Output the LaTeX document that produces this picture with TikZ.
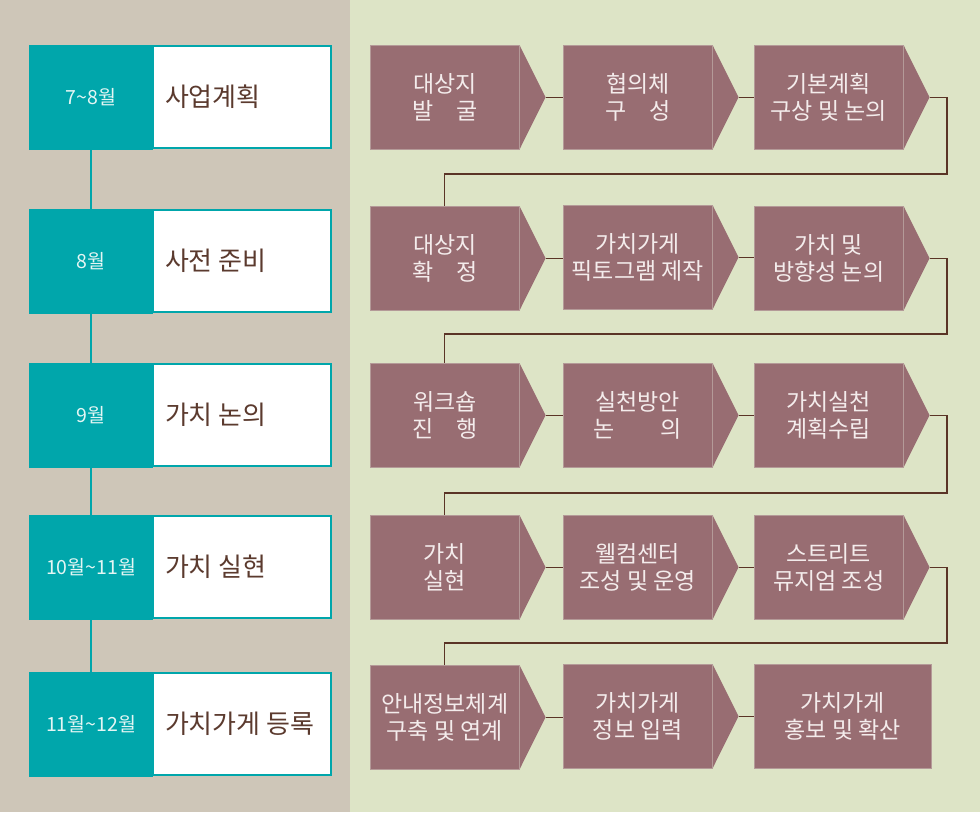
\documentclass[tikz,border=0pt]{standalone}
\usepackage{fontspec}
\newfontfamily\kr{Noto Sans CJK KR}
\usetikzlibrary{calc}
\definecolor{bgleft}{HTML}{CEC6B8}
\definecolor{bgright}{HTML}{DDE4C6}
\definecolor{teal}{HTML}{00A6AB}
\definecolor{mauve}{HTML}{986D72}
\definecolor{mauveedge}{HTML}{B49A98}
\definecolor{proctext}{HTML}{F4ECEC}
\definecolor{monthtext}{HTML}{E4F6F4}
\definecolor{titletext}{HTML}{5B3A2E}
\definecolor{conncol}{HTML}{5A3426}
\tikzset{
  monthbox/.style={fill=teal, draw=teal, line width=1pt, minimum width=123pt, minimum height=104pt, inner sep=0pt,
    anchor=north west, text=monthtext, font=\kr\fontsize{19.5}{22}\selectfont},
  titlebox/.style={fill=white, draw=teal, line width=2pt, minimum width=178pt, minimum height=102pt, inner sep=0pt,
    anchor=west, text=titletext, font=\kr\fontsize{26}{30}\selectfont},
  proc/.style={fill=mauve, draw=mauveedge, line width=0.5pt, minimum width=149pt, minimum height=104pt, inner sep=0pt,
    anchor=north west, text=proctext, align=center, font=\kr\fontsize{23}{26.5}\selectfont},
  tri/.style={fill=mauve},
  seam/.style={draw=mauveedge, line width=0.6pt},
  conn/.style={draw=conncol, line width=1.1pt},
  tline/.style={draw=teal, line width=1.2pt}
}
\newcommand{\titletext}[1]{\makebox[178pt][l]{\hspace{12pt}#1}}
\begin{document}
\begin{tikzpicture}[x=1pt,y=-1pt]
\useasboundingbox (0,0) rectangle (980,812);
\fill[bgleft] (0,0) rectangle (350,812);
\fill[bgright] (350,0) rectangle (980,812);

% left column
\foreach \i/\top/\m/\t in {1/45/7\textasciitilde8월/사업계획, 2/209/8월/사전 준비, 3/363/9월/가치 논의, 4/515/10월\textasciitilde11월/가치 실현, 5/672/11월\textasciitilde12월/가치가게 등록}{
  \node[titlebox] (t\i) at (152,\top+52) {\titletext{\t}};
  \node[monthbox] (m\i) at (29,\top) {\m};
}
\foreach \a/\b in {1/2,2/3,3/4,4/5}{
  \draw[tline] (m\a.south) -- (m\b.north);
}

% process boxes
\node[proc] (p11) at (370,45) {대상지\\발\hspace{1em}굴};
\node[proc] (p12) at (563,45) {협의체\\구\hspace{1em}성};
\node[proc] (p13) at (754,45) {기본계획\\구상 및 논의};
\node[proc] (p21) at (370,206) {대상지\\확\hspace{1em}정};
\node[proc] (p22) at (563,205) {가치가게\\픽토그램 제작};
\node[proc] (p23) at (754,206) {가치 및\\방향성 논의};
\node[proc] (p31) at (370,363) {워크숍\\진\hspace{1em}행};
\node[proc] (p32) at (563,363) {실천방안\\논\hspace{2em}의};
\node[proc] (p33) at (754,363) {가치실천\\계획수립};
\node[proc] (p41) at (370,515) {가치\\실현};
\node[proc] (p42) at (563,515) {웰컴센터\\조성 및 운영};
\node[proc] (p43) at (754,515) {스트리트\\뮤지엄 조성};
\node[proc] (p51) at (370,665) {안내정보체계\\구축 및 연계};
\node[proc] (p52) at (563,664) {가치가게\\정보 입력};
\node[proc, minimum width=177pt] (p53) at (754,664) {가치가게\\홍보 및 확산};

% arrow points
\foreach \n in {11,12,13,21,22,23,31,32,33,41,42,43,51,52}{
  \coordinate (tip\n) at ($(p\n.east)+(26,0)$);
  \fill[tri] (p\n.north east) -- (tip\n) -- (p\n.south east) -- cycle;
  \draw[seam] (p\n.north east) -- (p\n.south east);
}

% connectors within rows
\foreach \r in {1,2,3,4,5}{
  \draw[conn] (tip\r1) -- (tip\r1 -| p\r2.west);
  \draw[conn] (tip\r2) -- (tip\r2 -| p\r3.west);
}

% return connectors between rows
\coordinate (ra1) at (947,174);
\coordinate (ra2) at (947,334);
\coordinate (ra3) at (947,493);
\coordinate (ra4) at (947,643);
\foreach \a/\b in {1/2,2/3,3/4,4/5}{
  \draw[conn] (tip\a3) -- (tip\a3 -| ra\a) -- (ra\a) -- (ra\a -| p\b1.north) -- (p\b1.north);
}
\end{tikzpicture}
\end{document}
